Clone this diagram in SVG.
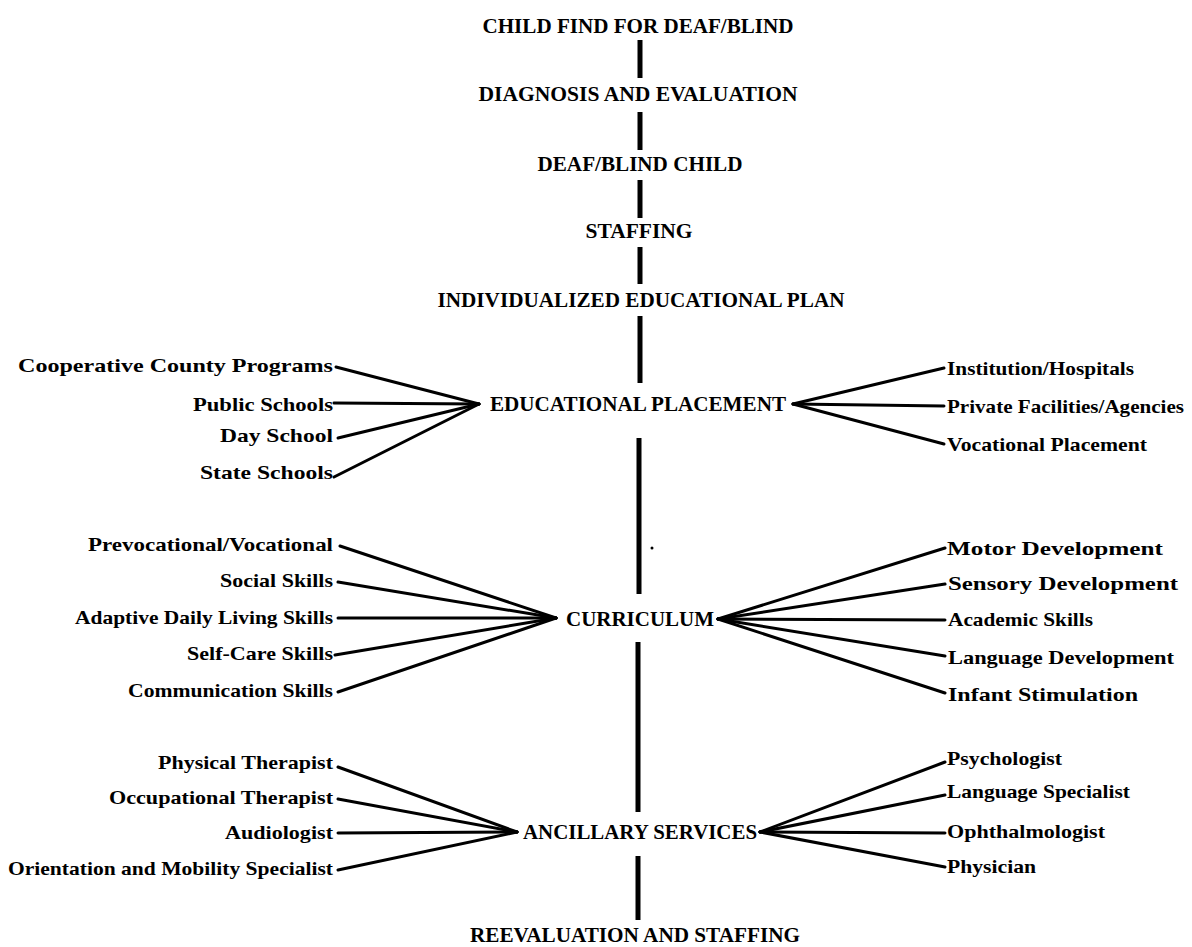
<svg xmlns="http://www.w3.org/2000/svg" width="1192" height="947" viewBox="0 0 1192 947">
<style>
text{font-family:"Liberation Serif","DejaVu Serif",serif;font-weight:bold;fill:#000}
.t{font-size:21px;text-anchor:middle}
.l{font-size:19px;text-anchor:end}
.r{font-size:19px;text-anchor:start}
.sp{stroke:#000;stroke-width:5;fill:none}
.c{stroke:#000;stroke-width:3;stroke-linecap:round;fill:none}
</style>
<rect width="1192" height="947" fill="#fff"/>
<g id="connectors">
<line class="sp" x1="640" y1="40" x2="640" y2="78"/>
<line class="sp" x1="640" y1="112" x2="640" y2="150"/>
<line class="sp" x1="640" y1="180" x2="640" y2="218"/>
<line class="sp" x1="640" y1="247" x2="640" y2="284"/>
<line class="sp" x1="640" y1="316" x2="640" y2="383"/>
<line class="sp" x1="639" y1="438" x2="639" y2="594"/>
<line class="sp" x1="638" y1="642" x2="638" y2="812"/>
<line class="sp" x1="638" y1="856" x2="638" y2="920"/>
<line class="c" x1="336" y1="367" x2="479" y2="404"/>
<line class="c" x1="334" y1="403" x2="479" y2="404"/>
<line class="c" x1="338" y1="438" x2="479" y2="404"/>
<line class="c" x1="334" y1="477" x2="479" y2="404"/>
<line class="c" x1="793" y1="404" x2="944" y2="368"/>
<line class="c" x1="793" y1="404" x2="944" y2="406"/>
<line class="c" x1="793" y1="404" x2="944" y2="444"/>
<line class="c" x1="340" y1="546" x2="556" y2="618"/>
<line class="c" x1="338" y1="582" x2="556" y2="618"/>
<line class="c" x1="338" y1="618" x2="556" y2="618"/>
<line class="c" x1="335" y1="655" x2="556" y2="618"/>
<line class="c" x1="338" y1="692" x2="556" y2="618"/>
<line class="c" x1="718" y1="619" x2="945" y2="548"/>
<line class="c" x1="718" y1="619" x2="945" y2="584"/>
<line class="c" x1="718" y1="619" x2="945" y2="620"/>
<line class="c" x1="718" y1="619" x2="945" y2="656"/>
<line class="c" x1="718" y1="619" x2="945" y2="693"/>
<line class="c" x1="338" y1="767" x2="517" y2="832"/>
<line class="c" x1="338" y1="799" x2="517" y2="832"/>
<line class="c" x1="338" y1="833" x2="517" y2="832"/>
<line class="c" x1="338" y1="870" x2="517" y2="832"/>
<line class="c" x1="760" y1="832" x2="945" y2="762"/>
<line class="c" x1="760" y1="832" x2="945" y2="795"/>
<line class="c" x1="760" y1="832" x2="945" y2="833"/>
<line class="c" x1="760" y1="832" x2="945" y2="867"/>
</g>
<circle cx="652" cy="548" r="1.5" fill="#000"/>
<g id="n-childfind"><text class="t" x="638" y="33" textLength="311" lengthAdjust="spacingAndGlyphs">CHILD FIND FOR DEAF/BLIND</text></g>
<g id="n-diagnosis"><text class="t" x="638" y="101" textLength="319" lengthAdjust="spacingAndGlyphs">DIAGNOSIS AND EVALUATION</text></g>
<g id="n-child"><text class="t" x="640" y="171" textLength="205" lengthAdjust="spacingAndGlyphs">DEAF/BLIND CHILD</text></g>
<g id="n-staffing"><text class="t" x="639" y="238" textLength="107" lengthAdjust="spacingAndGlyphs">STAFFING</text></g>
<g id="n-iep"><text class="t" x="641" y="307" textLength="407" lengthAdjust="spacingAndGlyphs">INDIVIDUALIZED EDUCATIONAL PLAN</text></g>
<g id="n-placement"><text class="t" x="638" y="411" textLength="296" lengthAdjust="spacingAndGlyphs">EDUCATIONAL PLACEMENT</text></g>
<g id="n-curriculum"><text class="t" x="640" y="626" textLength="148" lengthAdjust="spacingAndGlyphs">CURRICULUM</text></g>
<g id="n-ancillary"><text class="t" x="640" y="839" textLength="234" lengthAdjust="spacingAndGlyphs">ANCILLARY SERVICES</text></g>
<g id="n-reeval"><text class="t" x="635" y="942" textLength="330" lengthAdjust="spacingAndGlyphs">REEVALUATION AND STAFFING</text></g>
<g id="n-coop"><text class="l" x="333" y="372" textLength="315" lengthAdjust="spacingAndGlyphs">Cooperative County Programs</text></g>
<g id="n-public"><text class="l" x="333" y="411" textLength="140" lengthAdjust="spacingAndGlyphs">Public Schools</text></g>
<g id="n-day"><text class="l" x="333" y="442" textLength="113" lengthAdjust="spacingAndGlyphs">Day School</text></g>
<g id="n-state"><text class="l" x="333" y="479" textLength="133" lengthAdjust="spacingAndGlyphs">State Schools</text></g>
<g id="n-inst"><text class="r" x="947" y="375" textLength="187" lengthAdjust="spacingAndGlyphs">Institution/Hospitals</text></g>
<g id="n-private"><text class="r" x="947" y="413" textLength="237" lengthAdjust="spacingAndGlyphs">Private Facilities/Agencies</text></g>
<g id="n-voc"><text class="r" x="947" y="451" textLength="200" lengthAdjust="spacingAndGlyphs">Vocational Placement</text></g>
<g id="n-prevoc"><text class="l" x="333" y="551" textLength="245" lengthAdjust="spacingAndGlyphs">Prevocational/Vocational</text></g>
<g id="n-social"><text class="l" x="333" y="587" textLength="113" lengthAdjust="spacingAndGlyphs">Social Skills</text></g>
<g id="n-adaptive"><text class="l" x="333" y="624" textLength="258" lengthAdjust="spacingAndGlyphs">Adaptive Daily Living Skills</text></g>
<g id="n-selfcare"><text class="l" x="333" y="660" textLength="146" lengthAdjust="spacingAndGlyphs">Self-Care Skills</text></g>
<g id="n-comm"><text class="l" x="333" y="697" textLength="205" lengthAdjust="spacingAndGlyphs">Communication Skills</text></g>
<g id="n-motor"><text class="r" x="947" y="555" textLength="216" lengthAdjust="spacingAndGlyphs">Motor Development</text></g>
<g id="n-sensory"><text class="r" x="948" y="590" textLength="230" lengthAdjust="spacingAndGlyphs">Sensory Development</text></g>
<g id="n-academic"><text class="r" x="948" y="626" textLength="145" lengthAdjust="spacingAndGlyphs">Academic Skills</text></g>
<g id="n-language"><text class="r" x="948" y="664" textLength="226" lengthAdjust="spacingAndGlyphs">Language Development</text></g>
<g id="n-infant"><text class="r" x="948" y="701" textLength="190" lengthAdjust="spacingAndGlyphs">Infant Stimulation</text></g>
<g id="n-physical"><text class="l" x="333" y="769" textLength="175" lengthAdjust="spacingAndGlyphs">Physical Therapist</text></g>
<g id="n-occupational"><text class="l" x="333" y="804" textLength="224" lengthAdjust="spacingAndGlyphs">Occupational Therapist</text></g>
<g id="n-audiologist"><text class="l" x="333" y="839" textLength="108" lengthAdjust="spacingAndGlyphs">Audiologist</text></g>
<g id="n-orientation"><text class="l" x="333" y="875" textLength="325" lengthAdjust="spacingAndGlyphs">Orientation and Mobility Specialist</text></g>
<g id="n-psychologist"><text class="r" x="947" y="765" textLength="115" lengthAdjust="spacingAndGlyphs">Psychologist</text></g>
<g id="n-langspec"><text class="r" x="947" y="798" textLength="183" lengthAdjust="spacingAndGlyphs">Language Specialist</text></g>
<g id="n-ophth"><text class="r" x="947" y="838" textLength="158" lengthAdjust="spacingAndGlyphs">Ophthalmologist</text></g>
<g id="n-physician"><text class="r" x="947" y="873" textLength="89" lengthAdjust="spacingAndGlyphs">Physician</text></g>
</svg>
